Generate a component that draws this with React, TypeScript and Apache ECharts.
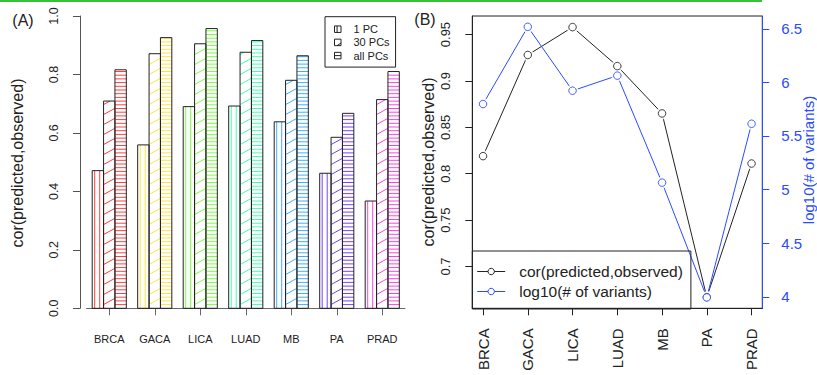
import React, { useEffect, useRef } from 'react';
import * as echarts from 'echarts';

const cancers = ['BRCA', 'GACA', 'LICA', 'LUAD', 'MB', 'PA', 'PRAD'];
const pcOne = [0.471, 0.559, 0.690, 0.692, 0.638, 0.462, 0.367];
const pcThirty = [0.709, 0.871, 0.905, 0.876, 0.780, 0.585, 0.714];
const pcAll = [0.816, 0.926, 0.957, 0.916, 0.864, 0.667, 0.810];
const corObserved = [0.819, 0.928, 0.958, 0.916, 0.865, 0.667, 0.811];
const log10Variants = [5.798, 6.518, 5.922, 6.063, 5.065, 3.994, 5.614];
const groupColors = ['#FF0000', '#FFDB00', '#49FF00', '#00FF92', '#0092FF', '#4900FF', '#FF00DB'];
const pcNames = ['1 PC', '30 PCs', 'all PCs'];
const corTicks = [0.7, 0.75, 0.8, 0.85, 0.9, 0.95];
const varTicks = [4, 4.5, 5, 5.5, 6, 6.5];
const positions = [1, 2, 3, 4, 5, 6, 7];

const FONT = '"Liberation Sans", Arial, Helvetica, sans-serif';
const BLUE = '#2a4bff';
const INK = '#222';

function hatchRenderer(kind: number) {
  return (params: any, api: any) => {
    const ci = api.value(0);
    const v = api.value(1);
    const base = api.coord([ci, 0]);
    const top = api.coord([ci, v]);
    const band = api.size([1, 0])[0];
    const bw = band / 4;
    const x0 = base[0] - 1.5 * bw + kind * bw;
    const x1 = x0 + bw;
    const y0 = top[1];
    const y1 = base[1];
    const color = groupColors[ci];
    const ls = { stroke: color, lineWidth: 1, opacity: 0.75 };
    const children: any[] = [];
    if (kind === 0) {
      for (let x = x0 + 2.5; x < x1 - 0.5; x += 5) {
        children.push({ type: 'line', shape: { x1: x, y1: y0, x2: x, y2: y1 }, style: ls });
      }
    } else if (kind === 2) {
      for (let y = y1 - 3.7; y > y0 + 0.5; y -= 3.7) {
        children.push({ type: 'line', shape: { x1: x0, y1: y, x2: x1, y2: y }, style: ls });
      }
    } else {
      const k = 0.55;
      for (let c = y1 + k * bw; c > y0; c -= 10) {
        const xa = Math.max(x0, x0 + (c - y1) / k);
        const xb = Math.min(x1, x0 + (c - y0) / k);
        if (xb > xa) {
          children.push({
            type: 'line',
            shape: { x1: xa, y1: c - k * (xa - x0), x2: xb, y2: c - k * (xb - x0) },
            style: ls,
          });
        }
      }
    }
    children.push({
      type: 'rect',
      shape: { x: x0, y: y0, width: bw, height: y1 - y0 },
      style: { fill: 'none', stroke: INK, lineWidth: 1 },
    });
    return { type: 'group', children };
  };
}

const legendIcons = [
  'path://M0,0L10,0L10,10L0,10Z M4,0L4,10',
  'path://M0,0L10,0L10,10L0,10Z M4,10L10,6',
  'path://M0,0L10,0L10,10L0,10Z M0,5L10,5',
];

function pointSeries(name: string, yIdx: number, values: number[], color: string) {
  const data = values.map((v, i) => [positions[i], v]);
  const ring = { color: '#fff', borderColor: color, borderWidth: 1 };
  return [
    {
      type: 'line',
      name,
      xAxisIndex: 1,
      yAxisIndex: yIdx,
      data,
      symbol: 'circle',
      symbolSize: 7.5,
      z: 2,
      lineStyle: { color, width: 1 },
      itemStyle: ring,
    },
    {
      type: 'scatter',
      name: name + ' gap',
      xAxisIndex: 1,
      yAxisIndex: yIdx,
      data,
      symbol: 'circle',
      symbolSize: 12,
      z: 3,
      itemStyle: { color: '#fff', borderWidth: 0 },
      silent: true,
    },
    {
      type: 'scatter',
      name: name + ' pts',
      xAxisIndex: 1,
      yAxisIndex: yIdx,
      data,
      symbol: 'circle',
      symbolSize: 7.5,
      z: 4,
      itemStyle: ring,
      silent: true,
    },
  ];
}

export default function App() {
  const ref = useRef<HTMLDivElement>(null);
  useEffect(() => {
    if (!ref.current) return;
    const chart = echarts.init(ref.current, null, { renderer: 'svg' });
    const barSets = [pcOne, pcThirty, pcAll];
    const option: any = {
      animation: false,
      backgroundColor: '#fff',
      textStyle: { fontFamily: FONT },
      grid: [
        { left: 86.5, top: 16, width: 318.5, height: 292.3 },
        { left: 472.3, top: 16, width: 290, height: 292.3, show: true, borderColor: INK, borderWidth: 1 },
      ],
      legend: [
        {
          data: pcNames.map((n, i) => ({
            name: n,
            icon: legendIcons[i],
            itemStyle: { color: '#fff', borderColor: INK, borderWidth: 1 },
          })),
          orient: 'vertical',
          left: 325,
          top: 16.7,
          padding: [7, 6, 6, 9],
          itemWidth: 6.5,
          itemHeight: 6.5,
          itemGap: 2.2,
          borderColor: INK,
          borderWidth: 1,
          textStyle: { fontSize: 11, color: INK, fontFamily: FONT, padding: [0, 0, 0, 7.5] },
          selectedMode: false,
        },
        {
          data: ['cor(predicted,observed)', 'log10(# of variants)'],
          orient: 'vertical',
          left: 472.3,
          top: 251,
          padding: [12.5, 8, 9.5, 4.4],
          itemWidth: 28,
          itemHeight: 8,
          itemGap: 4,
          borderColor: INK,
          borderWidth: 1,
          itemStyle: { borderWidth: 1 },
          lineStyle: { width: 1 },
          textStyle: { fontSize: 15.5, color: INK, fontFamily: FONT, padding: [0, 0, 0, 9] },
          selectedMode: false,
        },
      ],
      xAxis: [
        {
          gridIndex: 0,
          type: 'category',
          data: cancers,
          axisLine: { show: true, lineStyle: { color: '#666' } },
          axisTick: { show: true, alignWithLabel: true, length: 7, lineStyle: { color: '#666' } },
          axisLabel: { fontSize: 11, color: INK, margin: 25, fontFamily: FONT },
          splitLine: { show: false },
        },
        {
          gridIndex: 1,
          type: 'value',
          min: 0.76,
          max: 7.24,
          axisLine: { show: true, lineStyle: { color: INK } },
          axisTick: { show: true, length: 7, customValues: positions, lineStyle: { color: INK } },
          axisLabel: {
            customValues: positions,
            rotate: 90,
            fontSize: 15,
            color: INK,
            margin: 20,
            fontFamily: FONT,
            formatter: (v: number) => cancers[Math.round(v) - 1] ?? '',
          },
          splitLine: { show: false },
        },
      ],
      yAxis: [
        {
          gridIndex: 0,
          type: 'value',
          min: 0,
          max: 1,
          interval: 0.2,
          offset: 6.5,
          axisLine: { show: true, lineStyle: { color: '#555' } },
          axisTick: { show: true, length: 7, lineStyle: { color: '#555' } },
          axisLabel: {
            rotate: 90,
            fontSize: 12.5,
            color: INK,
            margin: 20,
            fontFamily: FONT,
            formatter: (v: number) => v.toFixed(1),
          },
          splitLine: { show: false },
        },
        {
          gridIndex: 1,
          type: 'value',
          min: 0.655,
          max: 0.97,
          axisLine: { show: true, lineStyle: { color: INK } },
          axisTick: { show: true, length: 7, customValues: corTicks, lineStyle: { color: INK } },
          axisLabel: {
            customValues: corTicks,
            rotate: 90,
            fontSize: 13,
            color: INK,
            margin: 20,
            fontFamily: FONT,
          },
          splitLine: { show: false },
        },
        {
          gridIndex: 1,
          type: 'value',
          position: 'right',
          min: 3.893,
          max: 6.619,
          axisLine: { show: true, lineStyle: { color: BLUE } },
          axisTick: { show: true, length: 7, customValues: varTicks, lineStyle: { color: BLUE } },
          axisLabel: {
            customValues: varTicks,
            fontSize: 15,
            color: BLUE,
            margin: 19,
            fontFamily: FONT,
          },
          splitLine: { show: false },
        },
      ],
      series: [
        ...barSets.map((vals, k) => ({
          type: 'custom',
          name: pcNames[k],
          xAxisIndex: 0,
          yAxisIndex: 0,
          clip: false,
          itemStyle: { color: '#fff', borderColor: INK },
          data: vals.map((v, i) => [i, v]),
          renderItem: hatchRenderer(k),
        })),
        ...pointSeries('cor(predicted,observed)', 1, corObserved, INK),
        ...pointSeries('log10(# of variants)', 2, log10Variants, BLUE),
      ],
      graphic: [
        { type: 'line', shape: { x1: 0, y1: 1, x2: 762, y2: 1 }, style: { stroke: '#35c435', lineWidth: 2 } },
        {
          type: 'text', x: 23, y: 20,
          style: { text: '(A)', fontSize: 16, fontFamily: FONT, fill: INK, textAlign: 'center', textVerticalAlign: 'middle' },
        },
        {
          type: 'text', x: 17, y: 163, rotation: Math.PI / 2,
          style: { text: 'cor(predicted,observed)', fontSize: 16, fontFamily: FONT, fill: INK, textAlign: 'center', textVerticalAlign: 'middle' },
        },
        {
          type: 'text', x: 425, y: 19,
          style: { text: '(B)', fontSize: 16, fontFamily: FONT, fill: INK, textAlign: 'center', textVerticalAlign: 'middle' },
        },
        {
          type: 'text', x: 428, y: 162, rotation: Math.PI / 2,
          style: { text: 'cor(predicted,observed)', fontSize: 16, fontFamily: FONT, fill: INK, textAlign: 'center', textVerticalAlign: 'middle' },
        },
        {
          type: 'text', x: 808, y: 160, rotation: Math.PI / 2,
          style: { text: 'log10(# of variants)', fontSize: 15, fontFamily: FONT, fill: BLUE, textAlign: 'center', textVerticalAlign: 'middle' },
        },
      ],
    };
    chart.setOption(option);
    return () => chart.dispose();
  }, []);
  return (
    <div
      ref={ref}
      style={{ position: 'fixed', left: 0, top: 0, width: 817, height: 375 }}
    />
  );
}
